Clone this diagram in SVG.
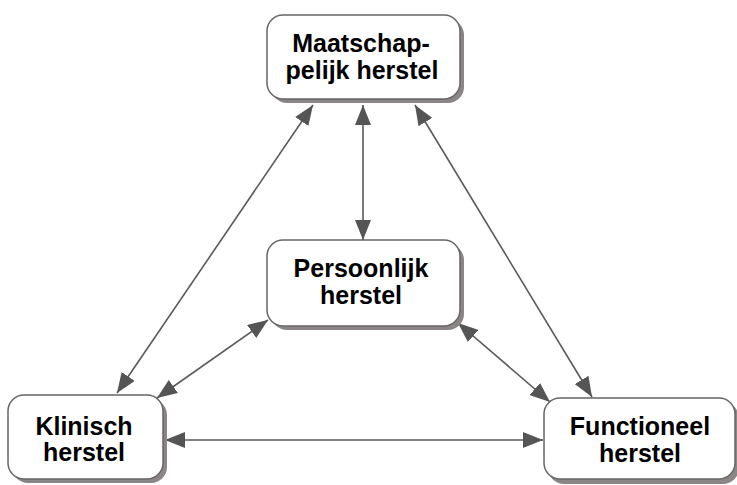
<svg xmlns="http://www.w3.org/2000/svg" width="737" height="485" viewBox="0 0 737 485">
<defs>
<style>
.shadow{fill:#8c8585;}
.box{fill:#ffffff;stroke:#666666;stroke-width:1.5;}
.lbl{font-family:"Liberation Sans",Arial,sans-serif;font-weight:bold;font-size:25px;fill:#000;text-anchor:middle;}
.con{stroke:#5a5a5a;stroke-width:1.6;fill:none;marker-start:url(#ah);marker-end:url(#ah);}
</style>
<marker id="ah" markerUnits="userSpaceOnUse" markerWidth="20" markerHeight="16" refX="20" refY="8" orient="auto-start-reverse" viewBox="0 0 20 16">
<path d="M0,0 L20,8 L0,16 z" fill="#555555"/>
</marker>
</defs>
<rect width="737" height="485" fill="#ffffff"/>
<g id="connectors">
<line class="con" x1="313" y1="105" x2="117" y2="393"/>
<line class="con" x1="363" y1="105" x2="363" y2="240"/>
<line class="con" x1="415" y1="105" x2="592" y2="397"/>
<line class="con" x1="268" y1="320" x2="157" y2="398"/>
<line class="con" x1="458" y1="323" x2="550" y2="402"/>
<line class="con" x1="165" y1="440" x2="543" y2="440"/>
</g>
<g id="maatschappelijk">
<rect class="shadow" x="271" y="19" width="193" height="84" rx="16"/>
<rect class="box" x="267" y="15" width="193" height="84" rx="16"/>
<text class="lbl" x="361" y="52">Maatschap-</text>
<text class="lbl" x="362" y="79">pelijk herstel</text>
</g>
<g id="persoonlijk">
<rect class="shadow" x="271" y="244" width="193" height="86" rx="16"/>
<rect class="box" x="267" y="240" width="193" height="86" rx="16"/>
<text class="lbl" x="361" y="277">Persoonlijk</text>
<text class="lbl" x="361" y="304">herstel</text>
</g>
<g id="klinisch">
<rect class="shadow" x="12" y="399" width="155" height="84" rx="16"/>
<rect class="box" x="8" y="395" width="155" height="84" rx="16"/>
<text class="lbl" x="84" y="435">Klinisch</text>
<text class="lbl" x="84" y="461">herstel</text>
</g>
<g id="functioneel">
<rect class="shadow" x="548" y="402" width="191" height="82" rx="16"/>
<rect class="box" x="544" y="398" width="191" height="81" rx="16"/>
<text class="lbl" x="640" y="435">Functioneel</text>
<text class="lbl" x="640" y="462">herstel</text>
</g>
</svg>
